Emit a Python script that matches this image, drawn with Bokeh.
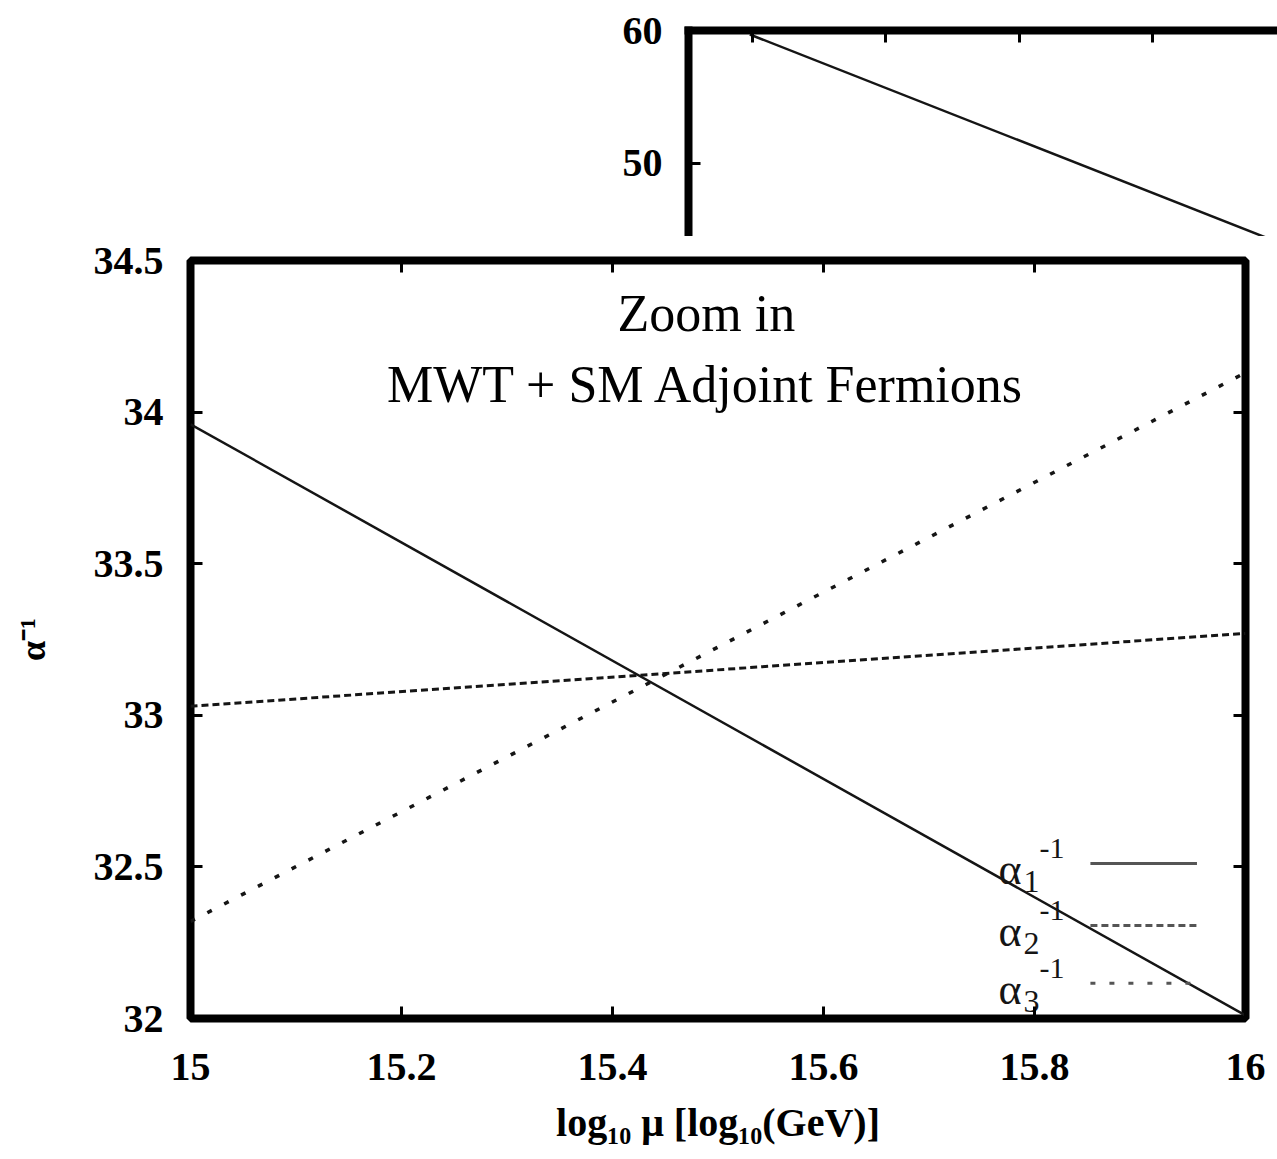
from bokeh.plotting import figure
from bokeh.models import Range1d, FixedTicker, LinearAxis, Spacer
from bokeh.layouts import column, row
from bokeh.embed import file_html
from bokeh.resources import INLINE
from bokeh.core.properties import value

# ---------------- data ----------------
mu_zoom = [15.0, 16.0]
alpha1_inv = [33.96, 32.01]
alpha2_inv = [33.03, 33.27]
alpha3_inv = [32.32, 34.13]

# full-range chart peeking out behind (only alpha1 visible there)
mu_full = [1.96, 16.0]
alpha1_full = [59.7, 32.01]

x_ticks = [15.0, 15.2, 15.4, 15.6, 15.8, 16.0]
x_tick_labels = ["15", "15.2", "15.4", "15.6", "15.8", "16"]
y_ticks = [32.0, 32.5, 33.0, 33.5, 34.0, 34.5]
y_tick_labels = ["32", "32.5", "33", "33.5", "34", "34.5"]

top_x_ticks = [2, 4, 6, 8]
top_y_ticks = [40, 50, 60]
top_y_tick_labels = ["40", "50", "60"]

legend_subs = ["1", "2", "3"]
legend_dashes = ["solid", "7 4", "5 14"]
line_widths = [2.5, 3, 3.5]

title_lines = ["Zoom in", "MWT + SM Adjoint Fermions"]

SERIF = "Liberation Serif"
INK = "#151515"

# ---------------- top fragment (full-range chart) ----------------
top = figure(width=677, height=236, output_backend="svg", toolbar_location=None,
             x_range=Range1d(1.04, 9.875), y_range=Range1d(44.51, 60.0),
             x_axis_location=None, y_axis_location="left",
             min_border_left=88, min_border_right=0, min_border_top=30,
             min_border_bottom=0)
top.outline_line_color = None
top.xgrid.visible = False
top.ygrid.visible = False
top.background_fill_color = "white"
top.border_fill_color = "white"

ya = top.yaxis[0]
ya.ticker = FixedTicker(ticks=top_y_ticks)
ya.major_label_overrides = {t: l for t, l in zip(top_y_ticks, top_y_tick_labels)}
ya.axis_line_width = 8
ya.axis_line_color = "black"
ya.axis_line_cap = "square"
ya.major_tick_in = 12
ya.major_tick_out = 0
ya.major_tick_line_width = 3
ya.minor_tick_line_color = None
ya.major_label_standoff = 26
ya.major_label_text_font = SERIF
ya.major_label_text_font_style = "bold"
ya.major_label_text_font_size = "40px"
ya.major_label_text_color = "black"

xa_top = LinearAxis(ticker=FixedTicker(ticks=top_x_ticks),
                    major_label_overrides={t: "" for t in top_x_ticks})
xa_top.axis_line_width = 8
xa_top.axis_line_color = "black"
xa_top.axis_line_cap = "square"
xa_top.major_tick_in = 12
xa_top.major_tick_out = 0
xa_top.major_tick_line_width = 3
xa_top.minor_tick_line_color = None
xa_top.major_label_standoff = 0
xa_top.major_label_text_font_size = "1px"
top.add_layout(xa_top, "above")

top.line(mu_full, alpha1_full, line_color=INK, line_width=2.5)

# ---------------- main zoomed chart ----------------
p = figure(width=1277, height=923, output_backend="svg", toolbar_location=None,
           x_range=Range1d(15.0, 16.0), y_range=Range1d(32.0, 34.5),
           min_border_left=190, min_border_right=32, min_border_top=24,
           min_border_bottom=141)
p.xgrid.visible = False
p.ygrid.visible = False
p.background_fill_color = "white"
p.border_fill_color = "white"
p.outline_line_color = "black"
p.outline_line_width = 8


def style_axis(ax, ticks, labels, show):
    ax.ticker = FixedTicker(ticks=ticks)
    if show:
        ax.major_label_overrides = {t: l for t, l in zip(ticks, labels)}
    else:
        ax.major_label_overrides = {t: "" for t in ticks}
        ax.major_label_standoff = 0
        ax.major_label_text_font_size = "1px"
    ax.axis_line_color = None
    ax.major_tick_in = 12
    ax.major_tick_out = 0
    ax.major_tick_line_width = 3
    ax.major_tick_line_color = "black"
    ax.minor_tick_line_color = None


xb = p.xaxis[0]
style_axis(xb, x_ticks, x_tick_labels, True)
xb.major_label_standoff = 35
xb.major_label_text_font = SERIF
xb.major_label_text_font_style = "bold"
xb.major_label_text_font_size = "40px"
xb.major_label_text_color = "black"
xb.axis_label = "log₁₀ μ [log₁₀(GeV)]"
xb.axis_label_text_font = SERIF
xb.axis_label_text_font_style = "bold"
xb.axis_label_text_font_size = "40px"
xb.axis_label_text_color = "black"
xb.axis_label_standoff = 17

yl = p.yaxis[0]
style_axis(yl, y_ticks, y_tick_labels, True)
yl.major_label_standoff = 27
yl.major_label_text_font = SERIF
yl.major_label_text_font_style = "bold"
yl.major_label_text_font_size = "40px"
yl.major_label_text_color = "black"
yl.axis_label = "α⁻¹"
yl.axis_label_text_font = SERIF
yl.axis_label_text_font_style = "bold"
yl.axis_label_text_font_size = "36px"
yl.axis_label_text_color = "black"
yl.axis_label_standoff = 38

xt = LinearAxis()
style_axis(xt, x_ticks, x_tick_labels, False)
p.add_layout(xt, "above")
yr = LinearAxis()
style_axis(yr, y_ticks, y_tick_labels, False)
p.add_layout(yr, "right")

# series
for ys, dash, lw in zip([alpha1_inv, alpha2_inv, alpha3_inv], legend_dashes, line_widths):
    p.line(mu_zoom, ys, line_color=INK, line_width=lw, line_dash=dash)

# title text inside the frame
title_x = 15.489
title_y = [34.325, 34.09]
for txt, ty in zip(title_lines, title_y):
    p.text(x=[title_x], y=[ty], text=[txt], text_align="center", text_baseline="middle",
           text_font=value(SERIF), text_font_size="52px", text_color="black")

# legend (gnuplot style: label on the left, key sample on the right)
leg_x0, leg_x1 = 15.853, 15.954
leg_y = [32.511, 32.307, 32.116]
for sub, dash, ly in zip(legend_subs, legend_dashes, leg_y):
    p.segment(x0=[leg_x0], y0=[ly], x1=[leg_x1], y1=[ly], line_color="#555555",
              line_width=3, line_dash=dash)
    p.text(x=[leg_x0], y=[ly], text=["α"], x_offset=-92, y_offset=6,
           text_align="left", text_baseline="middle", text_font=value(SERIF),
           text_font_size="44px", text_color=INK)
    p.text(x=[leg_x0], y=[ly], text=[sub], x_offset=-67, y_offset=18,
           text_align="left", text_baseline="middle", text_font=value(SERIF),
           text_font_size="32px", text_color=INK)
    p.text(x=[leg_x0], y=[ly], text=["-1"], x_offset=-51, y_offset=-15,
           text_align="left", text_baseline="middle", text_font=value(SERIF),
           text_font_size="30px", text_color=INK)

layout = column(row(Spacer(width=600, height=236), top), row(p), spacing=0)
open("out.html", "w").write(file_html(layout, INLINE))
